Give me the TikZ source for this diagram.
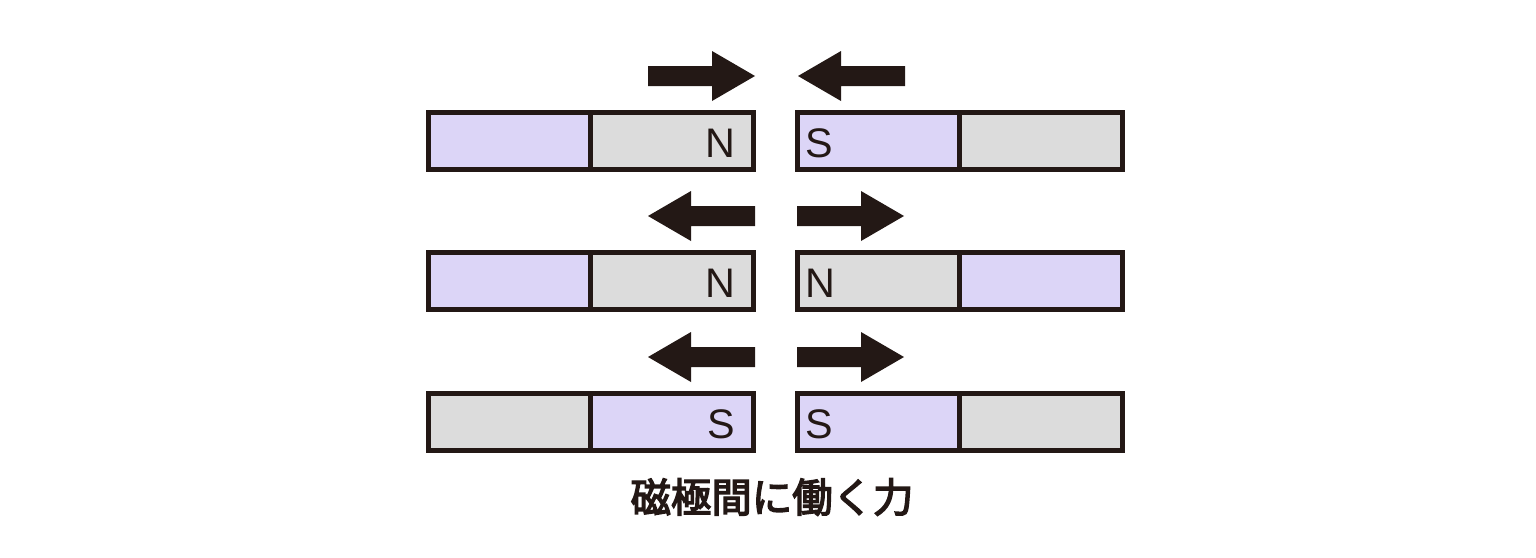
\documentclass[tikz,border=0pt]{standalone}
\usepackage{fontspec}
\setmainfont{Liberation Sans}
\newfontfamily\cjk[FakeBold=3.5]{Noto Sans CJK JP}
\usepackage{tikz}
\usetikzlibrary{positioning}

\definecolor{ink}{HTML}{231815}
\definecolor{mauve}{HTML}{DCD5F7}
\definecolor{silver}{HTML}{DCDCDC}

\begin{document}
\begin{tikzpicture}[
            x = 0.02cm, % one unit = one pixel of the reference
            y = -0.02cm,
            line width = 1mm % line style
        ]

        \tikzstyle{half}=[
            draw = ink,
            minimum width = 3.25cm,
            minimum height = 1.14cm,
            inner sep = 0pt,
            outer sep = 0pt
        ]
        \tikzstyle{pole}=[
            inner sep = 0pt,
            text = ink,
            font = \fontsize{23.5}{23.5}\selectfont
        ]
        \tikzset{force/.pic={
            \fill[ink] (0,-10) -- (64,-10) -- (64,-25) -- (107,0)
                -- (64,25) -- (64,10) -- (0,10) -- cycle;
        }}

        \useasboundingbox (0,0) rectangle (1536,558);

        % one row of two magnets, with the forces above them
        \foreach \n/\y/\la/\lb/\ml/\ra/\rb/\mr/\lt/\ld/\rt/\rd in {
                1/141/mauve/silver/N/mauve/silver/S/648/1/905/-1,
                2/281/mauve/silver/N/silver/mauve/N/755/-1/797/1,
                3/422/silver/mauve/S/mauve/silver/S/755/-1/797/1}{
            \node[half, fill=\la] (l\n a) at (509.75,\y) {};
            \node[half, fill=\lb, right=0pt of l\n a] (l\n b) {};
            \node[half, fill=\ra] (r\n a) at (878.75,\y) {};
            \node[half, fill=\rb, right=0pt of r\n a] (r\n b) {};
            \node[pole, anchor=base east] (m\n l) at (738,\y+16) {\ml};
            \node[pole, anchor=base west] (m\n r) at (803,\y+16) {\mr};
            \pic[xscale=\ld] at (\lt,\y-65) {force};
            \pic[xscale=\rd] at (\rt,\y-65) {force};
        }

        \node[text=ink, font=\cjk\fontsize{23}{23}\selectfont]
            (title) at (772,497) {磁極間に働く力};

  \end{tikzpicture}
\end{document}
